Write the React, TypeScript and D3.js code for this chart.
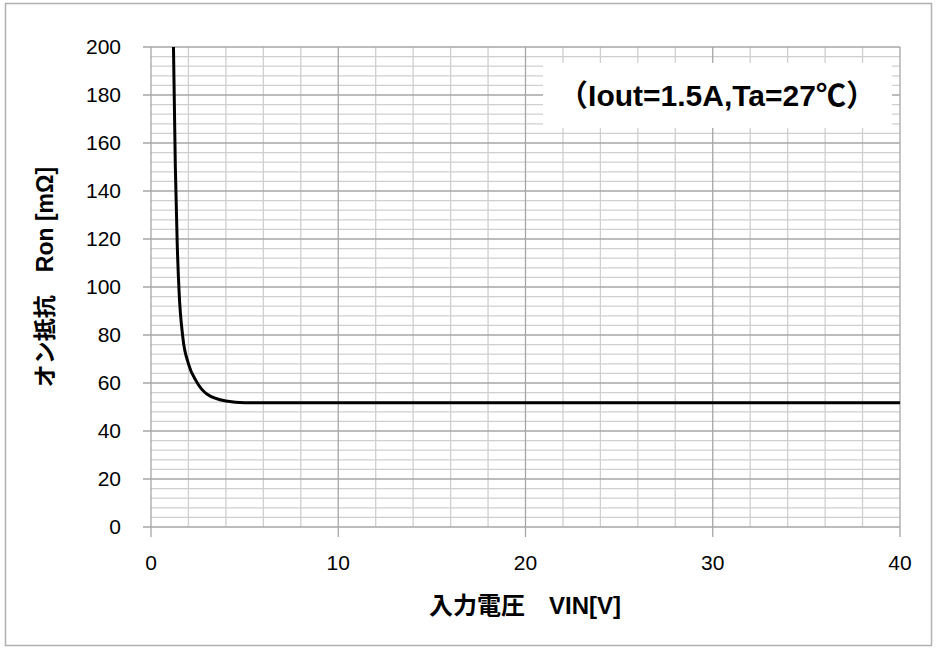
import React, { useRef, useEffect } from 'react'
import * as d3 from 'd3'

// measured points (VIN [V], Ron [mOhm])
const vin = [1.2, 1.3, 1.4, 1.5, 1.7, 2, 2.4, 3, 4, 5, 10, 20, 30, 40]
const ron = [200, 150, 118, 98, 79, 68, 61, 55.3, 52.5, 51.8, 51.8, 51.8, 51.8, 51.8]
const xTicks = [0, 10, 20, 30, 40]
const yTicks = [0, 20, 40, 60, 80, 100, 120, 140, 160, 180, 200]
const note = '（Iout=1.5A,Ta=27℃）'
const xTitle = '入力電圧　VIN[V]'
const yTitle = 'オン抵抗　Ron [mΩ]'

const W = 936
const H = 648
const left = 151
const right = 900
const top = 47
const bottom = 527
const font = '"Liberation Sans", Arial, "Noto Sans CJK JP", sans-serif'

const App = () => {
  const svgRef = useRef<SVGSVGElement>(null)

  useEffect(() => {
    const svg = d3.select(svgRef.current)
    svg.selectAll('*').remove()

    const x = d3.scaleLinear().domain([0, 40]).range([left, right])
    const y = d3.scaleLinear().domain([0, 200]).range([bottom, top])

    // outer frame
    svg.append('rect')
      .attr('x', 5.5).attr('y', 3.5)
      .attr('width', 926).attr('height', 642)
      .attr('fill', '#fff').attr('stroke', '#b0b0b0').attr('stroke-width', 1.5)

    const grid = svg.append('g')
    // minor gridlines
    d3.range(0, 201, 4).filter(v => v % 20 !== 0).forEach(v => {
      grid.append('line')
        .attr('x1', left).attr('x2', right)
        .attr('y1', y(v)).attr('y2', y(v))
        .attr('stroke', '#cfcfcf').attr('stroke-width', 1.3)
    })
    d3.range(0, 41, 2).filter(v => v % 10 !== 0).forEach(v => {
      grid.append('line')
        .attr('x1', x(v)).attr('x2', x(v))
        .attr('y1', top).attr('y2', bottom)
        .attr('stroke', '#cfcfcf').attr('stroke-width', 1.3)
    })
    // major gridlines
    yTicks.forEach(v => {
      grid.append('line')
        .attr('x1', left - 8).attr('x2', right)
        .attr('y1', y(v)).attr('y2', y(v))
        .attr('stroke', '#a6a6a6').attr('stroke-width', 1.3)
    })
    xTicks.forEach(v => {
      grid.append('line')
        .attr('x1', x(v)).attr('x2', x(v))
        .attr('y1', top).attr('y2', bottom + 10)
        .attr('stroke', '#a6a6a6').attr('stroke-width', 1.3)
    })

    // note box covering the grid
    svg.append('rect')
      .attr('x', 543).attr('y', 63)
      .attr('width', 349).attr('height', 65)
      .attr('fill', '#fff')
    svg.append('text')
      .attr('x', 717).attr('y', 106)
      .attr('text-anchor', 'middle')
      .attr('font-family', font).attr('font-weight', 'bold')
      .attr('font-size', 30)
      .text(note)

    // curve
    const line = d3.line<number>()
      .x((d, i) => x(vin[i]))
      .y(d => y(d))
      .curve(d3.curveMonotoneX)
    svg.append('path')
      .datum(ron)
      .attr('d', line)
      .attr('fill', 'none')
      .attr('stroke', '#000')
      .attr('stroke-width', 3)

    // tick labels
    svg.selectAll('.ylab')
      .data(yTicks)
      .join('text')
      .attr('x', 121).attr('y', d => y(d) + 7)
      .attr('text-anchor', 'end')
      .attr('font-family', font).attr('font-size', 21)
      .text(d => d)
    svg.selectAll('.xlab')
      .data(xTicks)
      .join('text')
      .attr('x', d => x(d)).attr('y', 570)
      .attr('text-anchor', 'middle')
      .attr('font-family', font).attr('font-size', 21)
      .text(d => d)

    // axis titles
    svg.append('text')
      .attr('x', 525).attr('y', 614)
      .attr('text-anchor', 'middle')
      .attr('font-family', font).attr('font-weight', 'bold')
      .attr('font-size', 24)
      .text(xTitle)
    svg.append('text')
      .attr('transform', 'translate(53,277) rotate(-90)')
      .attr('text-anchor', 'middle')
      .attr('font-family', font).attr('font-weight', 'bold')
      .attr('font-size', 23)
      .text(yTitle)
  }, [])

  return (
    <div className='App'>
      <svg ref={svgRef} width={W} height={H}
        style={{ position: 'absolute', left: 0, top: 0 }}></svg>
    </div>
  )
}

export default App
